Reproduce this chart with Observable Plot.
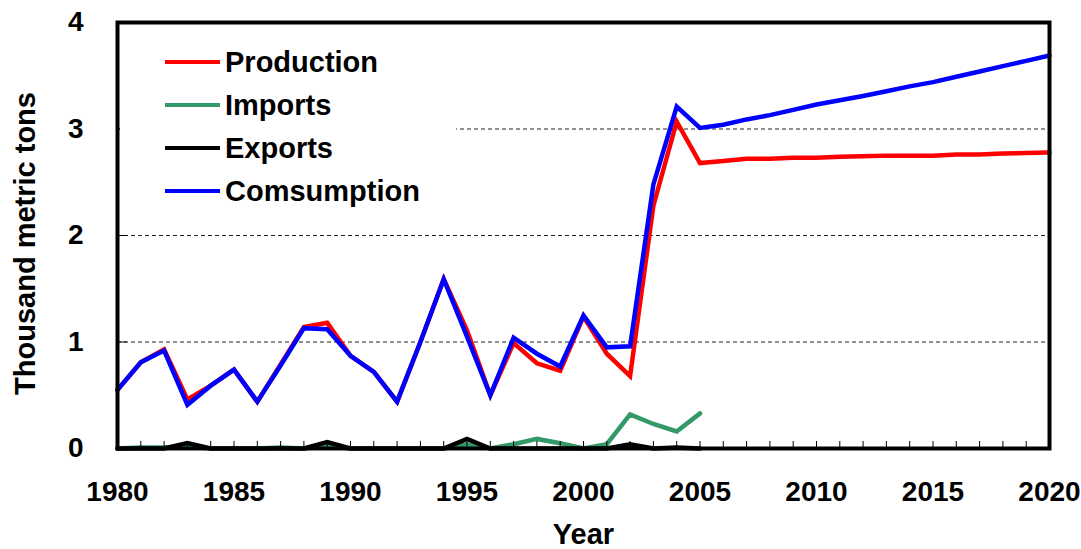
<!DOCTYPE html>
<html>
<head>
<meta charset="utf-8">
<script src="https://cdn.jsdelivr.net/npm/d3@7"></script>
<script src="https://cdn.jsdelivr.net/npm/@observablehq/plot@0.6"></script>
<style>
  html, body { margin: 0; padding: 0; background: #fff; }
  #wrap { position: relative; width: 1081px; height: 549px; overflow: hidden; background: #fff; }
  #legend { position: absolute; left: 120px; top: 30px; width: 336px; height: 190px; background: #fff; }
  .row { position: absolute; left: 0; height: 40px; display: flex; align-items: center;
         font-family: "Liberation Sans", Arial, sans-serif; font-weight: bold; font-size: 29px; color: #000; }
  .swatch { width: 55px; height: 4px; margin-left: 45px; margin-right: 5px; }
</style>
</head>
<body>
<div id="wrap"><div id="legend"></div></div>
<script>
// ---- data ----
const years = [1980,1981,1982,1983,1984,1985,1986,1987,1988,1989,1990,1991,1992,1993,1994,1995,1996,1997,1998,1999,2000,
               2001,2002,2003,2004,2005,2006,2007,2008,2009,2010,2011,2012,2013,2014,2015,2016,2017,2018,2019,2020];
const production = [0.55,0.81,0.93,0.46,0.59,0.74,0.44,0.79,1.14,1.18,0.87,0.72,0.44,1.00,1.59,1.11,0.50,0.99,0.80,0.73,1.24,
                    0.89,0.68,2.28,3.07,2.68,2.70,2.72,2.72,2.73,2.73,2.74,2.745,2.75,2.75,2.75,2.76,2.76,2.77,2.775,2.78];
const consumption = [0.55,0.81,0.92,0.41,0.59,0.74,0.44,0.78,1.13,1.12,0.87,0.72,0.44,1.00,1.59,1.05,0.50,1.04,0.89,0.77,1.25,
                     0.95,0.96,2.48,3.21,3.01,3.04,3.09,3.13,3.18,3.23,3.27,3.31,3.355,3.40,3.44,3.49,3.54,3.59,3.64,3.69];
const tradeYears = [1980,1981,1982,1983,1984,1985,1986,1987,1988,1989,1990,1991,1992,1993,1994,1995,1996,1997,1998,1999,2000,
                    2001,2002,2003,2004,2005];
const imports = [0,0.01,0.01,0.02,0,0,0,0.01,0,0.02,0,0,0,0,0,0.04,0,0.04,0.09,0.05,0,0.04,0.32,0.23,0.16,0.33];
const exports = [0,0,0,0.05,0,0,0,0,0,0.06,0,0,0,0,0,0.09,0,0,0,0,0,0,0.04,0,0.01,0];

const seriesNames = ["Production", "Imports", "Exports", "Comsumption"];
const seriesColors = ["#ff0000", "#339966", "#000000", "#0000ff"];
const yTicks = [0, 1, 2, 3, 4];
const gridValues = [1, 2, 3];
const xLabelTicks = [1980, 1985, 1990, 1995, 2000, 2005, 2010, 2015, 2020];
const xTitle = "Year";
const yTitle = "Thousand metric tons";

// ---- build tables ----
const toRows = (xs, vs, name) => xs.map((x, i) => ({year: x, value: vs[i], series: name}));
const seriesData = [
  toRows(years, production, seriesNames[0]),
  toRows(tradeYears, imports, seriesNames[1]),
  toRows(tradeYears, exports, seriesNames[2]),
  toRows(years, consumption, seriesNames[3])
];

const font = "'Liberation Sans', Arial, sans-serif";

const chart = Plot.plot({
  width: 1081,
  height: 549,
  marginLeft: 117,
  marginRight: 32,
  marginTop: 22,
  marginBottom: 101,
  style: {fontFamily: font, fontWeight: "bold", fontSize: "28px", color: "#000", background: "#fff", overflow: "visible"},
  x: {domain: [1980, 2020]},
  y: {domain: [0, 4]},
  color: {domain: seriesNames, range: seriesColors},
  marks: [
    Plot.gridY(gridValues, {stroke: "#222", strokeOpacity: 1, strokeWidth: 1.2, strokeDasharray: "4,3"}),
    ...seriesData.map(rows => Plot.line(rows, {
      x: "year", y: "value", stroke: "series", strokeWidth: 4.5, strokeLinejoin: "miter", strokeMiterlimit: 3
    })),
    Plot.frame({stroke: "#000", strokeWidth: 4}),
    Plot.axisY(yTicks, {tickSize: 0, tickPadding: 34, label: null, fontSize: 28, tickFormat: d => String(d)}),
    Plot.axisY(yTicks, {tickSize: -10, label: null, tickFormat: () => "", strokeWidth: 1}),
    Plot.axisX(years, {tickSize: -7, label: null, tickFormat: () => "", strokeWidth: 1}),
    Plot.axisX(xLabelTicks, {tickSize: 0, tickPadding: 33, label: null, fontSize: 28, tickFormat: d => String(d)}),
    Plot.text([xTitle], {frameAnchor: "bottom", dy: 86, lineAnchor: "middle", textAnchor: "middle", fontSize: 29, fontWeight: "bold", fill: "#000"}),
    Plot.text([yTitle], {frameAnchor: "left", dx: -92, dy: 8, rotate: -90, textAnchor: "middle", lineAnchor: "middle", fontSize: 29, fontWeight: "bold", fill: "#000"})
  ]
});

const wrap = document.getElementById("wrap");
wrap.insertBefore(chart, wrap.firstChild);

// ---- legend ----
const legend = document.getElementById("legend");
seriesNames.forEach((name, i) => {
  const row = document.createElement("div");
  row.className = "row";
  row.style.top = (12 + 43 * i) + "px";
  const sw = document.createElement("div");
  sw.className = "swatch";
  sw.style.background = seriesColors[i];
  const label = document.createElement("span");
  label.textContent = name;
  row.appendChild(sw);
  row.appendChild(label);
  legend.appendChild(row);
});
</script>
</body>
</html>
